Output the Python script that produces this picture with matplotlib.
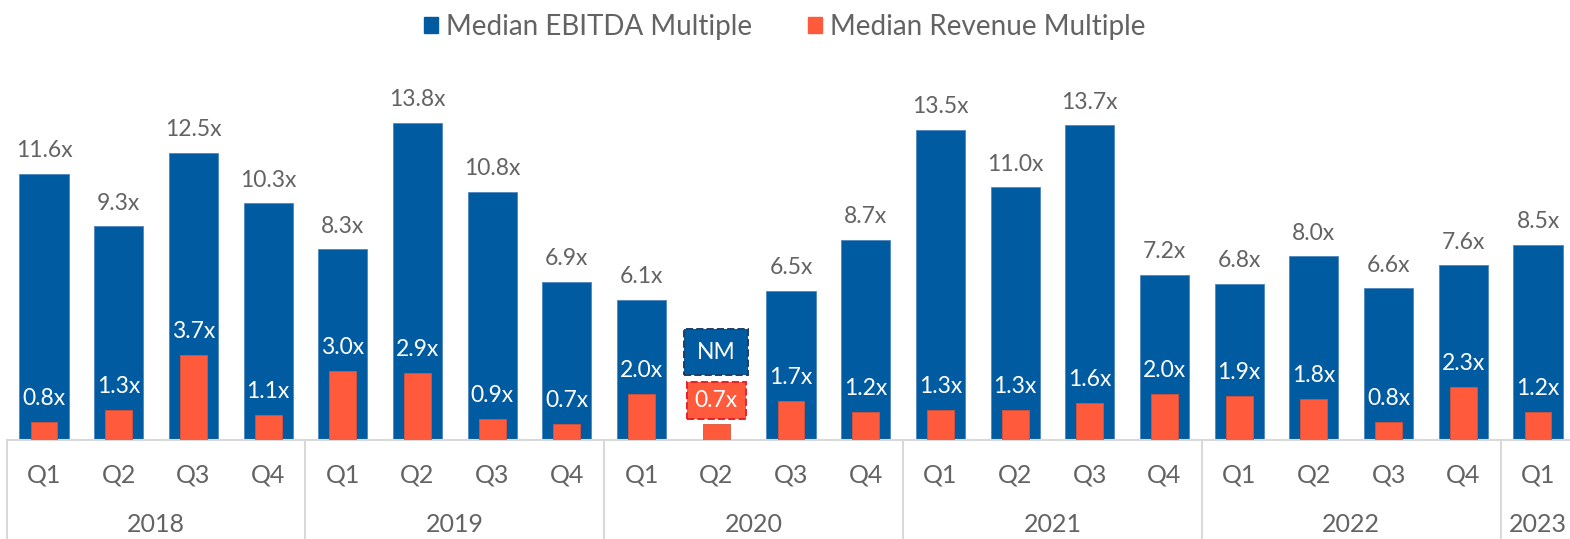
import matplotlib
matplotlib.use('Agg')
import matplotlib.pyplot as plt
import matplotlib.patches as mpatches
import matplotlib.transforms as mtransforms
import numpy as np

quarters = ['Q1', 'Q2', 'Q3', 'Q4'] * 5 + ['Q1']
years = ['2018', '2019', '2020', '2021', '2022', '2023']
year_counts = [4, 4, 4, 4, 4, 1]
ebitda = [11.6, 9.3, 12.5, 10.3, 8.3, 13.8, 10.8, 6.9, 6.1, np.nan, 6.5, 8.7,
          13.5, 11.0, 13.7, 7.2, 6.8, 8.0, 6.6, 7.6, 8.5]
revenue = [0.8, 1.3, 3.7, 1.1, 3.0, 2.9, 0.9, 0.7, 2.0, 0.7, 1.7, 1.2,
           1.3, 1.3, 1.6, 2.0, 1.9, 1.8, 0.8, 2.3, 1.2]

BLUE = '#015BA1'
ORANGE = '#FF5A3B'
GRAY = '#636363'
LINE = '#d9d9d9'
FONT = 'Lato'

W, H = 1570, 539
fig = plt.figure(figsize=(W / 100, H / 100), dpi=100)
base = 440
left = 6.65
step = 74.7
ax = fig.add_axes([left / W, (H - base) / H, (W - left) / W, base / H])
ax.set_xlim(-0.5, -0.5 + (W - left) / step)
ax.set_ylim(0, base / 22.97)

x = np.arange(len(quarters))
ax.bar(x, ebitda, width=0.656, color=BLUE, edgecolor='#4f86c0', linewidth=0.6, zorder=2)
ax.bar(x, revenue, width=0.36, color=ORANGE, edgecolor='#d9543a', linewidth=0.6, zorder=3)

for i in x:
    if not np.isnan(ebitda[i]):
        ax.annotate(f'{ebitda[i]:.1f}x', (i, ebitda[i]), xytext=(0, 12), textcoords='offset points',
                    ha='center', va='baseline', fontsize=16.5, color=GRAY, family=FONT)
    if np.isnan(ebitda[i]):
        # no EBITDA multiple this quarter: boxed labels
        ax.annotate(f'{revenue[i]:.1f}x', (i, revenue[i]), xytext=(0, 12.2), textcoords='offset points',
                    ha='center', va='baseline', fontsize=16.5, color='white', family=FONT, zorder=4,
                    bbox=dict(boxstyle='square,pad=0.35', fc=ORANGE, ec='#e8202a', ls='--', lw=1.4))
        ax.annotate('NM', (i, revenue[i]), xytext=(0, 47), textcoords='offset points',
                    ha='center', va='baseline', fontsize=16.5, color='white', family=FONT, zorder=4,
                    bbox=dict(boxstyle='square,pad=0.55', fc=BLUE, ec='#1d3f66', ls='--', lw=1.4))
    else:
        ax.annotate(f'{revenue[i]:.1f}x', (i, revenue[i]), xytext=(0, 12.2), textcoords='offset points',
                    ha='center', va='baseline', fontsize=16.5, color='white', family=FONT, zorder=4)

for s in ['top', 'right', 'left']:
    ax.spines[s].set_visible(False)
ax.spines['bottom'].set_color(LINE)
ax.spines['bottom'].set_linewidth(1.5)
ax.set_yticks([])
ax.set_xticks(x)
ax.set_xticklabels(quarters, fontsize=18, color=GRAY, family=FONT)
ax.tick_params(axis='x', length=0, pad=17)

trans = mtransforms.blended_transform_factory(ax.transData, ax.transAxes)
bottom = -(H - base) / base
pos = -0.5
for yr, n in zip(years, year_counts):
    ax.plot([pos, pos], [0, bottom], transform=trans, color=LINE, lw=1.5, clip_on=False)
    ax.text(pos + n / 2, -85 / base, yr, transform=trans, ha='center', va='center',
            fontsize=18, color=GRAY, family=FONT)
    pos += n

handles = [mpatches.Patch(color=BLUE, label='Median EBITDA Multiple'),
           mpatches.Patch(color=ORANGE, label='Median Revenue Multiple')]
fig.legend(handles=handles, loc='center', bbox_to_anchor=(0.5, 1 - 27 / H), ncol=2, frameon=False,
           prop={'family': FONT, 'size': 20}, labelcolor=GRAY, handlelength=0.5, handleheight=0.5,
           handletextpad=0.3, columnspacing=2.0)

fig.savefig('out.png', dpi=100)
